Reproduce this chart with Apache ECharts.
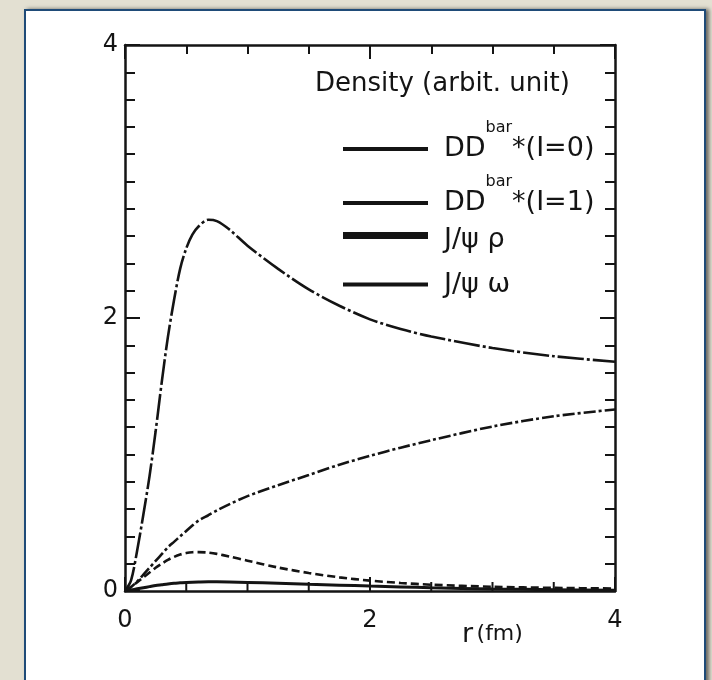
<!DOCTYPE html>
<html><head><meta charset="utf-8">
<script src="https://cdn.jsdelivr.net/npm/echarts@6/dist/echarts.min.js"></script>
<style>
html,body{margin:0;padding:0;width:712px;height:680px;overflow:hidden;background:#e3e0d2;}
#panel{position:absolute;left:24px;top:9px;width:678px;height:700px;background:#fff;border:2px solid #1f4b78;box-shadow:3px 0 4px rgba(0,0,0,0.55);}
#chart{position:absolute;left:0;top:0;width:712px;height:680px;}
</style></head><body>
<div id="panel"></div><div id="chart"></div>
<script>
// ---- data ----
const rValues = [0, 0.05, 0.1, 0.15, 0.2, 0.25, 0.3, 0.35, 0.4, 0.45, 0.5, 0.55, 0.6, 0.68, 0.75, 0.85, 1.0, 1.25, 1.5, 1.75, 2.0, 2.25, 2.5, 3.0, 3.5, 4.0];
const densityDDbarI0 = [0, 0.08, 0.3, 0.56, 0.84, 1.17, 1.53, 1.86, 2.13, 2.36, 2.51, 2.61, 2.67, 2.72, 2.71, 2.65, 2.53, 2.36, 2.21, 2.09, 1.99, 1.92, 1.865, 1.78, 1.72, 1.68];
const densityDDbarI1 = [0, 0.03, 0.07, 0.12, 0.17, 0.22, 0.27, 0.32, 0.36, 0.40, 0.44, 0.48, 0.515, 0.555, 0.59, 0.635, 0.695, 0.775, 0.85, 0.925, 0.99, 1.05, 1.105, 1.205, 1.28, 1.33];
const densityJpsiRho = [0, 0.008, 0.016, 0.024, 0.032, 0.04, 0.046, 0.052, 0.057, 0.06, 0.063, 0.065, 0.066, 0.067, 0.067, 0.066, 0.063, 0.057, 0.05, 0.043, 0.036, 0.03, 0.024, 0.015, 0.01, 0.006];
const densityJpsiOmega = [0, 0.03, 0.065, 0.1, 0.135, 0.17, 0.2, 0.228, 0.25, 0.267, 0.278, 0.284, 0.285, 0.281, 0.272, 0.253, 0.222, 0.172, 0.132, 0.1, 0.076, 0.059, 0.046, 0.031, 0.023, 0.018];
const seriesNames = ['DD^bar*(I=0)', 'DD^bar*(I=1)', 'J/ψ ρ', 'J/ψ ω'];
const xLabelValues = [0, 2, 4];
const xBottomTickValues = [0, 0.5, 1, 1.5, 2, 2.5, 3, 3.5, 4];
const xUnitText = ['r', '(fm)'];
const yLabelValues = [0, 2, 4];
const titleText = 'Density (arbit. unit)';

// ---- chart ----
const FONT = 'DejaVu Sans, Liberation Sans, Arial, sans-serif';
const INK = '#141414';
const pairs = arr => rValues.map((r, i) => [r, arr[i]]);
const seriesData = [densityDDbarI0, densityDDbarI1, densityJpsiRho, densityJpsiOmega];
const lineStyles = [
  {width: 2.6, type: [26, 3, 3, 3]},
  {width: 2.6, type: [12, 3, 3, 3]},
  {width: 3, type: 'solid'},
  {width: 2.6, type: [8, 4]}
];
const legendThick = [4, 4, 7, 4];
const legendTops = [120, 174, 226, 271];
const legendPadTop = [0, 0, 8, 0];

function legendFmt(name) {
  if (name.indexOf('^bar') >= 0) {
    const parts = name.split('^bar');
    return '{m|' + parts[0] + '}{s|bar}{m|' + parts[1] + '}';
  }
  return '{g|' + name + '}';
}

function xTicks() {
  return {
    axisTick: {show: true, inside: true, length: 14, lineStyle: {color: INK, width: 2}},
    minorTick: {show: true, splitNumber: 4, length: 9, lineStyle: {color: INK, width: 2}}
  };
}
function yTicks() {
  return {
    axisTick: {show: true, inside: true, length: 15, lineStyle: {color: INK, width: 2}},
    minorTick: {show: true, splitNumber: 10, length: 10, lineStyle: {color: INK, width: 2}}
  };
}

const curveSeries = seriesNames.map((nm, i) => ({
  name: nm, type: 'line', xAxisIndex: 0, yAxisIndex: 0,
  data: pairs(seriesData[i]),
  smooth: 0.3, showSymbol: false, symbol: 'none',
  lineStyle: Object.assign({color: INK}, lineStyles[i]),
  itemStyle: {color: INK},
  z: 3
}));

// inward tick marks along the bottom axis, placed through the x scale
const bottomTickSeries = {
  name: 'bottom-ticks', type: 'custom', xAxisIndex: 0, yAxisIndex: 0,
  silent: true, clip: false, z: 4,
  data: xBottomTickValues.map(v => [v, 0]),
  renderItem: function (params, api) {
    const v = api.value(0);
    const p = api.coord([v, api.value(1)]);
    const len = (v % 2 === 0) ? 14 : 9;
    return {
      type: 'line',
      shape: {x1: p[0], y1: p[1], x2: p[0], y2: p[1] - len},
      style: {stroke: INK, lineWidth: 2}
    };
  }
};

const option = {
  animation: false,
  backgroundColor: 'transparent',
  title: {
    text: titleText, left: 310, top: 66,
    textStyle: {fontFamily: FONT, fontSize: 26, fontWeight: 'normal', color: INK}
  },
  grid: {left: 125, right: 97, top: 45, bottom: 89},
  xAxis: [
    {
      type: 'value', min: 0, max: 4, interval: 2, position: 'bottom',
      axisLine: {show: true, onZero: false, lineStyle: {color: INK, width: 2.5}},
      axisTick: {show: false}, minorTick: {show: false},
      splitLine: {show: false},
      axisLabel: {
        show: true, margin: 18, fontFamily: FONT, fontSize: 24, color: INK,
        formatter: v => (xLabelValues.indexOf(v) >= 0 ? String(v) : '')
      }
    },
    Object.assign({
      type: 'value', min: 0, max: 4, interval: 2, position: 'top',
      axisLine: {show: true, onZero: false, lineStyle: {color: INK, width: 2.5}},
      splitLine: {show: false},
      axisLabel: {show: false}
    }, xTicks()),
    {
      type: 'value', min: 0, max: 4, interval: 2, position: 'bottom',
      name: '{r|' + xUnitText[0] + '} {u|' + xUnitText[1] + '}',
      nameLocation: 'middle', nameGap: 30,
      nameTextStyle: {
        padding: [0, 0, 0, 245], color: INK,
        rich: {
          r: {fontFamily: FONT, fontSize: 27, color: INK},
          u: {fontFamily: FONT, fontSize: 22, color: INK}
        }
      },
      axisLine: {show: false, onZero: false},
      axisTick: {show: false}, minorTick: {show: false},
      splitLine: {show: false},
      axisLabel: {show: false}
    }
  ],
  yAxis: [
    Object.assign({
      type: 'value', min: 0, max: 4, interval: 2, position: 'left',
      axisLine: {show: true, lineStyle: {color: INK, width: 2.5}},
      splitLine: {show: false},
      axisLabel: {
        show: true, margin: 7, fontFamily: FONT, fontSize: 24, color: INK,
        formatter: v => (yLabelValues.indexOf(v) >= 0 ? String(v) : '')
      }
    }, yTicks()),
    Object.assign({
      type: 'value', min: 0, max: 4, interval: 2, position: 'right',
      axisLine: {show: true, onZero: false, lineStyle: {color: INK, width: 2.5}},
      splitLine: {show: false},
      axisLabel: {show: false}
    }, yTicks())
  ],
  legend: seriesNames.map((nm, i) => ({
    data: [{name: nm, icon: 'rect'}],
    left: 343, top: legendTops[i],
    itemWidth: 85, itemHeight: legendThick[i],
    itemStyle: {borderWidth: 0, color: INK},
    padding: 0, selectedMode: false,
    formatter: legendFmt,
    textStyle: {
      fontFamily: FONT, color: INK, padding: [legendPadTop[i], 0, 0, 11],
      rich: {
        m: {fontFamily: FONT, fontSize: 27, color: INK, lineHeight: 58},
        s: {fontFamily: FONT, fontSize: 16, color: INK, lineHeight: 16, verticalAlign: 'top'},
        g: {fontFamily: FONT, fontSize: 27, color: INK, lineHeight: 30}
      }
    }
  })),
  series: curveSeries.concat([bottomTickSeries])
};

const chart = echarts.init(document.getElementById('chart'), null, {renderer: 'canvas'});
chart.setOption(option);
</script></body></html>
